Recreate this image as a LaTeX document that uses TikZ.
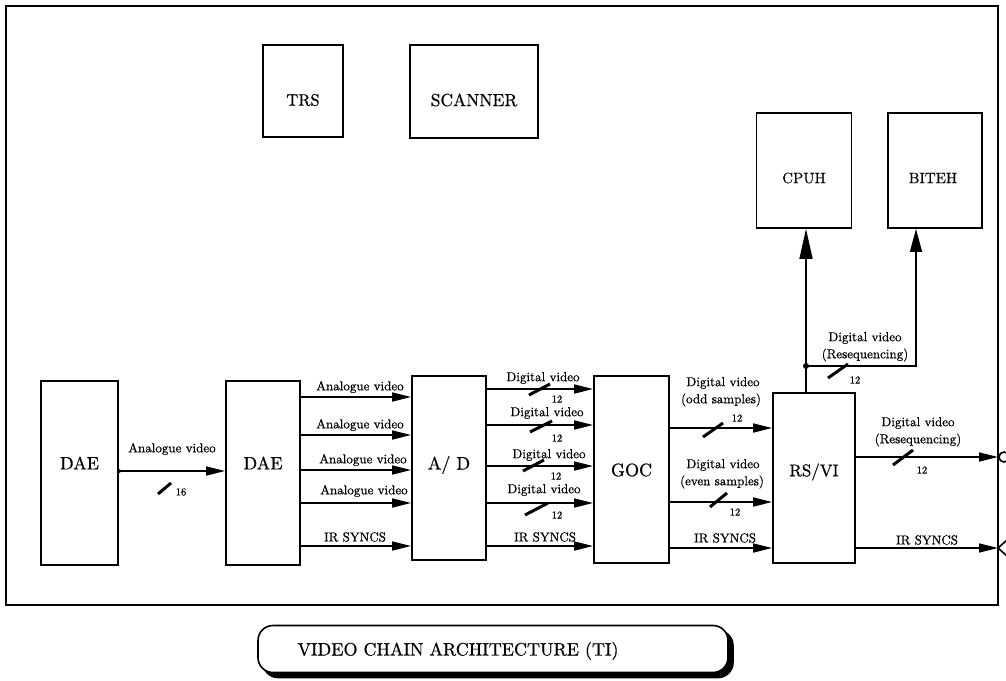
\documentclass[tikz,border=0pt]{standalone}
\usepackage{fontspec}
\newfontfamily\lblfont{lmroman10-regular.otf}[FakeBold=0.6]
\newfontfamily\boxfont{lmroman10-regular.otf}[FakeBold=0.5]
\usetikzlibrary{arrows.meta,shadows,calc}
\begin{document}
\begin{tikzpicture}[x=1pt,y=-1pt,
  box/.style={draw, line width=1.8pt, inner sep=0pt},
  boxtext/.style={inner sep=0pt, font=\boxfont\fontsize{18}{20}\selectfont},
  lbl/.style={inner sep=0pt, font=\lblfont\fontsize{13}{14}\selectfont},
  num/.style={inner sep=0pt, font=\lblfont\fontsize{10.5}{12}\selectfont},
  arr/.style={line width=1.6pt, -{Triangle[length=19pt,width=9pt]}},
  ln/.style={line width=1.6pt},
  slashmark/.style={line width=3pt},
  titlebox/.style={draw, line width=1.6pt, fill=white, rounded corners=15pt, minimum width=470pt, minimum height=47pt, inner sep=0pt,
    copy shadow={shadow xshift=5pt, shadow yshift=-5pt, fill=black, draw=black}},
]
\useasboundingbox (0,0) rectangle (1006,680);
\fill[white] (0,0) rectangle (1006,680);
\draw[line width=1.8pt] (6,6) rectangle (998,605);

% boxes
\node[box, minimum width=80pt, minimum height=92pt] (trs) at (303,91) {};
\node[boxtext, font=\boxfont\fontsize{16.5}{18}\selectfont] (trs-t) at (303,100) {TRS};
\node[box, minimum width=128pt, minimum height=93pt] (scanner) at (474,91.5) {};
\node[boxtext, font=\boxfont\fontsize{17.5}{18}\selectfont] (scanner-t) at (474,100) {SCANNER};
\node[box, minimum width=95pt, minimum height=115pt] (cpuh) at (804,170.5) {};
\node[boxtext, font=\boxfont\fontsize{15}{16}\selectfont] (cpuh-t) at (804,178) {CPUH};
\node[box, minimum width=94pt, minimum height=115pt] (biteh) at (935,170.5) {};
\node[boxtext, font=\boxfont\fontsize{15}{16}\selectfont] (biteh-t) at (933,178) {BITEH};
\node[box, minimum width=77pt, minimum height=184pt] (dae1) at (79.5,473) {};
\node[boxtext] (dae1-t) at (79.5,463) {DAE};
\node[box, minimum width=74pt, minimum height=184pt] (dae2) at (263,473) {};
\node[boxtext] (dae2-t) at (263,463) {DAE};
\node[box, minimum width=74pt, minimum height=184pt] (ad) at (449,468) {};
\node[boxtext] (ad-t) at (449,465) {A/ D};
\node[box, minimum width=75pt, minimum height=187pt] (goc) at (631.5,469.5) {};
\node[boxtext] (goc-t) at (631.5,470) {GOC};
\node[box, minimum width=82pt, minimum height=170pt] (rsvi) at (814,478) {};
\node[boxtext, font=\boxfont\fontsize{17}{18}\selectfont] (rsvi-t) at (814,472) {RS/VI};

% levels
\coordinate (yA) at (0,471);
\coordinate (yB1) at (0,397);
\coordinate (yB2) at (0,435);
\coordinate (yB3) at (0,470);
\coordinate (yB4) at (0,503);
\coordinate (yS) at (0,546);
\coordinate (yC1) at (0,389);
\coordinate (yC2) at (0,425);
\coordinate (yC3) at (0,466);
\coordinate (yC4) at (0,503);
\coordinate (yD1) at (0,428);
\coordinate (yD2) at (0,502);
\coordinate (yDS) at (0,548);
\coordinate (edge1) at (998,457);
\coordinate (edge2) at (998,548);
\coordinate (tap) at (806,366);
\coordinate (corner) at (916,366);

% DAE -> DAE
\draw[arr] (dae1.east |- yA) -- (dae2.west |- yA);
\fill (dae1.east |- yA) circle (2pt);
\node[lbl] (la) at (172,449) {Analogue video};
\draw[slashmark] (158,494) -- (171,483);
\node[num] (na) at (181,492) {16};

% DAE -> A/D
\draw[arr] (dae2.east |- yB1) -- (ad.west |- yB1);
\draw[arr] (dae2.east |- yB2) -- (ad.west |- yB2);
\draw[arr] (dae2.east |- yB3) -- (ad.west |- yB3);
\draw[arr] (dae2.east |- yB4) -- (ad.west |- yB4);
\draw[arr] (dae2.east |- yS) -- (ad.west |- yS);
\node[lbl] (lb1) at (360,387) {Analogue video};
\node[lbl] (lb2) at (360,425) {Analogue video};
\node[lbl] (lb3) at (363,460) {Analogue video};
\node[lbl] (lb4) at (364,491) {Analogue video};
\node[lbl] (lbs) at (355,537) {IR SYNCS};

% A/D -> GOC
\draw[arr] (ad.east |- yC1) -- (goc.west |- yC1);
\draw[arr] (ad.east |- yC2) -- (goc.west |- yC2);
\draw[arr] (ad.east |- yC3) -- (goc.west |- yC3);
\draw[arr] (ad.east |- yC4) -- (goc.west |- yC4);
\draw[arr] (ad.east |- yS) -- (goc.west |- yS);
\node[lbl] (lc1) at (543,378) {Digital video};
\node[lbl] (lc2) at (547,413) {Digital video};
\node[lbl] (lc3) at (549,455) {Digital video};
\node[lbl] (lc4) at (544,490) {Digital video};
\node[lbl] (lcs) at (545,537) {IR SYNCS};
\draw[slashmark] (529,395) -- (550,384);
\draw[slashmark] (530,432) -- (552,421);
\draw[slashmark] (523,471) -- (544,460);
\draw[slashmark] (525,515) -- (548,503);
\node[num] (nc1) at (557,399) {12};
\node[num] (nc2) at (557,438) {12};
\node[num] (nc3) at (556,476) {12};
\node[num] (nc4) at (557,515) {12};

% GOC -> RS/VI
\draw[arr] (goc.east |- yD1) -- (rsvi.west |- yD1);
\draw[arr] (goc.east |- yD2) -- (rsvi.west |- yD2);
\draw[arr] (goc.east |- yDS) -- (rsvi.west |- yDS);
\node[lbl] (ld1) at (723,383) {Digital video};
\node[lbl] (ld1b) at (721,400) {(odd samples)};
\node[num] (nd1) at (737,418) {12};
\draw[slashmark] (703,437) -- (723,423);
\node[lbl] (ld2) at (723,465) {Digital video};
\node[lbl] (ld2b) at (722,482) {(even samples)};
\node[num] (nd2) at (735,512) {12};
\draw[slashmark] (710,507) -- (727,493);
\node[lbl] (lds) at (725,538) {IR SYNCS};

% RS/VI -> out
\draw[arr] (rsvi.east |- edge1) -- (edge1);
\draw[arr] (rsvi.east |- edge2) -- (edge2);
\node[lbl] (le1) at (918,423) {Digital video};
\node[lbl] (le1b) at (918,440) {(Resequencing)};
\node[num] (ne1) at (922,470) {12};
\draw[slashmark] (893,465) -- (913,450);
\node[lbl] (les) at (927,540) {IR SYNCS};
\draw[ln] ($(edge1)+(6,0)$) circle (5pt);
\draw[ln] (edge2) -- ++(9,-8) (edge2) -- ++(9,8);

% RS/VI -> CPUH, BITEH
\draw[ln] (tap |- rsvi.north) -- (tap);
\draw[line width=1.6pt, -{Triangle[length=30pt,width=13pt]}] (tap) -- (tap |- cpuh.south);
\draw[line width=1.6pt, -{Triangle[length=23pt,width=12pt]}] (tap) -- (corner) -- (corner |- biteh.south);
\fill (tap) circle (3pt);
\node[lbl] (lf1) at (865,338) {Digital video};
\node[lbl] (lf1b) at (865,355) {(Resequencing)};
\draw[slashmark] (828,378) -- (848,364);
\node[num] (nf1) at (855,380) {12};

% title
\node[titlebox] (tbox) at (493,649) {};
\node[inner sep=0pt, font=\boxfont\fontsize{18}{20}\selectfont] (title) at (458,651) {VIDEO CHAIN ARCHITECTURE (TI)};
\end{tikzpicture}
\end{document}
